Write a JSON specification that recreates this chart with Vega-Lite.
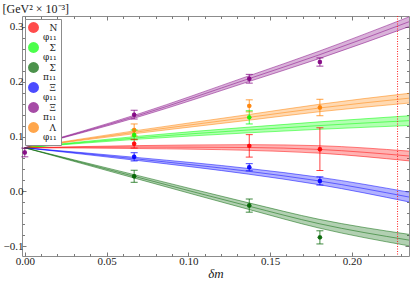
{
  "$schema": "https://vega.github.io/schema/vega-lite/v6.json",
  "width": 387,
  "height": 240,
  "autosize": "none",
  "padding": {"left": 22, "top": 16, "right": 2, "bottom": 29},
  "background": "white",
  "config": {
    "view": {"stroke": "#8c8c8c", "strokeWidth": 1},
    "style": {"guide-label": {"lineHeight": 9}},
    "axis": {"domain": false, "grid": false, "labelFont": "Liberation Serif", "labelFontSize": 11, "labelColor": "#222222", "tickColor": "#7a7a7a", "tickWidth": 1, "titleFont": "Liberation Serif", "titleFontWeight": "normal", "titleColor": "#222222"},
    "legend": {"labelFont": "DejaVu Serif", "labelFontSize": 9, "labelColor": "#222222"}
  },
  "datasets": {
    "bands": [
      {"s": "πΞ", "dm": 0, "c": 0.0795, "lo": 0.0795, "hi": 0.0795},
      {"s": "πΞ", "dm": 0.07, "c": 0.139, "lo": 0.1363, "hi": 0.1417},
      {"s": "πΞ", "dm": 0.137, "c": 0.2055, "lo": 0.2003, "hi": 0.2107},
      {"s": "πΞ", "dm": 0.18, "c": 0.249, "lo": 0.2422, "hi": 0.2558},
      {"s": "πΞ", "dm": 0.235, "c": 0.3095, "lo": 0.3006, "hi": 0.3184},
      {"s": "φΛ", "dm": 0, "c": 0.0795, "lo": 0.0795, "hi": 0.0795},
      {"s": "φΛ", "dm": 0.07, "c": 0.109, "lo": 0.1063, "hi": 0.1117},
      {"s": "φΛ", "dm": 0.137, "c": 0.135, "lo": 0.1298, "hi": 0.1402},
      {"s": "φΛ", "dm": 0.18, "c": 0.152, "lo": 0.1452, "hi": 0.1588},
      {"s": "φΛ", "dm": 0.235, "c": 0.170, "lo": 0.1611, "hi": 0.1789},
      {"s": "φΣ", "dm": 0, "c": 0.0795, "lo": 0.0795, "hi": 0.0795},
      {"s": "φΣ", "dm": 0.07, "c": 0.098, "lo": 0.0953, "hi": 0.1007},
      {"s": "φΣ", "dm": 0.137, "c": 0.112, "lo": 0.1068, "hi": 0.1172},
      {"s": "φΣ", "dm": 0.18, "c": 0.120, "lo": 0.1132, "hi": 0.1268},
      {"s": "φΣ", "dm": 0.235, "c": 0.129, "lo": 0.1201, "hi": 0.1379},
      {"s": "φN", "dm": 0, "c": 0.0795, "lo": 0.0795, "hi": 0.0795},
      {"s": "φN", "dm": 0.07, "c": 0.0808, "lo": 0.0781, "hi": 0.0835},
      {"s": "φN", "dm": 0.137, "c": 0.080, "lo": 0.0748, "hi": 0.0852},
      {"s": "φN", "dm": 0.18, "c": 0.0765, "lo": 0.0697, "hi": 0.0833},
      {"s": "φN", "dm": 0.235, "c": 0.0645, "lo": 0.0556, "hi": 0.0734},
      {"s": "φΞ", "dm": 0, "c": 0.0795, "lo": 0.0795, "hi": 0.0795},
      {"s": "φΞ", "dm": 0.07, "c": 0.0587, "lo": 0.056, "hi": 0.0614},
      {"s": "φΞ", "dm": 0.137, "c": 0.0365, "lo": 0.0313, "hi": 0.0417},
      {"s": "φΞ", "dm": 0.18, "c": 0.019, "lo": 0.0122, "hi": 0.0258},
      {"s": "φΞ", "dm": 0.235, "c": -0.0104, "lo": -0.0193, "hi": -0.0015},
      {"s": "πΣ", "dm": 0, "c": 0.0795, "lo": 0.0795, "hi": 0.0795},
      {"s": "πΣ", "dm": 0.07, "c": 0.025, "lo": 0.0218, "hi": 0.0282},
      {"s": "πΣ", "dm": 0.137, "c": -0.027, "lo": -0.033, "hi": -0.021},
      {"s": "πΣ", "dm": 0.18, "c": -0.059, "lo": -0.067, "hi": -0.051},
      {"s": "πΣ", "dm": 0.235, "c": -0.089, "lo": -0.0995, "hi": -0.0785}
    ],
    "pts": [
      {"s": "φN", "dm": 0.0669, "v": 0.087, "lo": 0.079, "hi": 0.095},
      {"s": "φN", "dm": 0.1373, "v": 0.083, "lo": 0.0625, "hi": 0.1035},
      {"s": "φN", "dm": 0.1805, "v": 0.077, "lo": 0.038, "hi": 0.116},
      {"s": "φΣ", "dm": 0.0669, "v": 0.103, "lo": 0.094, "hi": 0.112},
      {"s": "φΣ", "dm": 0.1373, "v": 0.135, "lo": 0.123, "hi": 0.147},
      {"s": "πΣ", "dm": 0.0669, "v": 0.0275, "lo": 0.0165, "hi": 0.0385},
      {"s": "πΣ", "dm": 0.1373, "v": -0.026, "lo": -0.038, "hi": -0.014},
      {"s": "πΣ", "dm": 0.1805, "v": -0.084, "lo": -0.096, "hi": -0.072},
      {"s": "φΞ", "dm": 0.0669, "v": 0.063, "lo": 0.0555, "hi": 0.0705},
      {"s": "φΞ", "dm": 0.1373, "v": 0.044, "lo": 0.0375, "hi": 0.0505},
      {"s": "φΞ", "dm": 0.1805, "v": 0.019, "lo": 0.0115, "hi": 0.0265},
      {"s": "πΞ", "dm": 0, "v": 0.071, "lo": 0.063, "hi": 0.079},
      {"s": "πΞ", "dm": 0.0669, "v": 0.140, "lo": 0.132, "hi": 0.148},
      {"s": "πΞ", "dm": 0.1373, "v": 0.2055, "lo": 0.1975, "hi": 0.2135},
      {"s": "πΞ", "dm": 0.1805, "v": 0.236, "lo": 0.2285, "hi": 0.2435},
      {"s": "φΛ", "dm": 0.0669, "v": 0.112, "lo": 0.101, "hi": 0.123},
      {"s": "φΛ", "dm": 0.1373, "v": 0.156, "lo": 0.145, "hi": 0.167},
      {"s": "φΛ", "dm": 0.1805, "v": 0.153, "lo": 0.138, "hi": 0.168}
    ],
    "vline": [{"dm": 0.228}]
  },
  "resolve": {"axis": {"x": "independent", "y": "independent"}},
  "layer": [
    {
      "data": {"name": "pts"},
      "mark": {"type": "circle", "size": 20},
      "encoding": {
        "x": {"field": "dm", "type": "quantitative",
          "scale": {"domain": [-0.0017, 0.235], "nice": false, "zero": false},
          "axis": {"orient": "bottom", "values": [0, 0.01, 0.02, 0.03, 0.04, 0.05, 0.06, 0.07, 0.08, 0.09, 0.1, 0.11, 0.12, 0.13, 0.14, 0.15, 0.16, 0.17, 0.18, 0.19, 0.2, 0.21, 0.22, 0.23],
            "labelExpr": "round(datum.value*100) % 5 == 0 ? format(datum.value, '.2f') : ''",
            "tickSize": {"condition": {"test": "round(datum.value*100) % 5 == 0", "value": -4}, "value": -2.5},
            "labelPadding": 3, "labelFlush": false, "labelFont": "Liberation Serif",
            "title": "δm", "titleFont": "Liberation Serif", "titleFontStyle": "italic", "titleFontSize": 13, "titlePadding": 1}},
        "y": {"field": "v", "type": "quantitative",
          "scale": {"domain": [-0.118, 0.32], "nice": false, "zero": false},
          "axis": {"orient": "left", "values": [-0.1, -0.08, -0.06, -0.04, -0.02, 0, 0.02, 0.04, 0.06, 0.08, 0.1, 0.12, 0.14, 0.16, 0.18, 0.2, 0.22, 0.24, 0.26, 0.28, 0.3],
            "labelExpr": "round(datum.value*100) % 10 == 0 ? format(datum.value, '.1f') : ''",
            "tickSize": {"condition": {"test": "round(datum.value*100) % 10 == 0", "value": -4}, "value": -2.5},
            "labelPadding": 3, "labelFlush": false, "labelFont": "Liberation Serif",
            "title": "[GeV² × 10⁻³]", "titleFont": "Liberation Serif", "titleAngle": 0, "titleAlign": "left", "titleBaseline": "middle", "titleX": -20, "titleY": -8, "titleFontSize": 12}},
        "color": {"field": "s", "type": "nominal",
          "scale": {"domain": ["φN", "φΣ", "πΣ", "φΞ", "πΞ", "φΛ"], "range": ["#ff0000", "#00ff00", "#006400", "#0000ff", "#800080", "#ff8000"]},
          "legend": {"title": null, "orient": "top-left", "offset": 3, "symbolType": "circle", "symbolSize": 120, "symbolStrokeWidth": 0, "symbolOpacity": 1,
            "fillColor": "white", "strokeColor": "#8c8c8c", "padding": 3, "rowPadding": 0, "labelOffset": 4, "labelBaseline": "middle",
            "labelExpr": "['\u2800' + substring(datum.label, 1), substring(datum.label, 0, 1) + '₁₁\u00a0\u00a0']"}}
      }
    },
    {
      "data": {"name": "bands"},
      "mark": {"type": "area", "fillOpacity": 0.3, "interpolate": "monotone"},
      "encoding": {
        "x": {"field": "dm", "type": "quantitative", "axis": null},
        "y": {"field": "lo", "type": "quantitative", "axis": null},
        "y2": {"field": "hi"},
        "color": {"field": "s", "type": "nominal"}
      }
    },
    {
      "data": {"name": "bands"},
      "mark": {"type": "line", "strokeWidth": 0.7, "strokeOpacity": 0.7, "interpolate": "monotone"},
      "encoding": {
        "x": {"field": "dm", "type": "quantitative",
          "axis": {"orient": "top", "values": [0, 0.01, 0.02, 0.03, 0.04, 0.05, 0.06, 0.07, 0.08, 0.09, 0.1, 0.11, 0.12, 0.13, 0.14, 0.15, 0.16, 0.17, 0.18, 0.19, 0.2, 0.21, 0.22, 0.23],
            "labels": false, "title": null,
            "tickSize": {"condition": {"test": "round(datum.value*100) % 5 == 0", "value": -4}, "value": -2.5}}},
        "y": {"field": "c", "type": "quantitative",
          "axis": {"orient": "right", "values": [-0.1, -0.08, -0.06, -0.04, -0.02, 0, 0.02, 0.04, 0.06, 0.08, 0.1, 0.12, 0.14, 0.16, 0.18, 0.2, 0.22, 0.24, 0.26, 0.28, 0.3],
            "labels": false, "title": null,
            "tickSize": {"condition": {"test": "round(datum.value*100) % 10 == 0", "value": -4}, "value": -2.5}}},
        "color": {"field": "s", "type": "nominal"}
      }
    },
    {
      "data": {"name": "bands"},
      "mark": {"type": "line", "strokeWidth": 0.7, "strokeOpacity": 0.7, "interpolate": "monotone"},
      "encoding": {
        "x": {"field": "dm", "type": "quantitative", "axis": null},
        "y": {"field": "lo", "type": "quantitative", "axis": null},
        "color": {"field": "s", "type": "nominal"}
      }
    },
    {
      "data": {"name": "bands"},
      "mark": {"type": "line", "strokeWidth": 0.7, "strokeOpacity": 0.7, "interpolate": "monotone"},
      "encoding": {
        "x": {"field": "dm", "type": "quantitative", "axis": null},
        "y": {"field": "hi", "type": "quantitative", "axis": null},
        "color": {"field": "s", "type": "nominal"}
      }
    },
    {
      "data": {"name": "pts"},
      "mark": {"type": "rule", "strokeWidth": 1, "strokeOpacity": 0.75},
      "encoding": {
        "x": {"field": "dm", "type": "quantitative", "axis": null},
        "y": {"field": "lo", "type": "quantitative", "axis": null},
        "y2": {"field": "hi"},
        "color": {"field": "s", "type": "nominal"}
      }
    },
    {
      "data": {"name": "pts"},
      "mark": {"type": "tick", "orient": "horizontal", "size": 7, "thickness": 1, "fillOpacity": 0.75},
      "encoding": {
        "x": {"field": "dm", "type": "quantitative", "axis": null},
        "y": {"field": "lo", "type": "quantitative", "axis": null},
        "color": {"field": "s", "type": "nominal"}
      }
    },
    {
      "data": {"name": "pts"},
      "mark": {"type": "tick", "orient": "horizontal", "size": 7, "thickness": 1, "fillOpacity": 0.75},
      "encoding": {
        "x": {"field": "dm", "type": "quantitative", "axis": null},
        "y": {"field": "hi", "type": "quantitative", "axis": null},
        "color": {"field": "s", "type": "nominal"}
      }
    },
    {
      "data": {"name": "pts"},
      "mark": {"type": "circle", "size": 20},
      "encoding": {
        "x": {"field": "dm", "type": "quantitative", "axis": null},
        "y": {"field": "v", "type": "quantitative", "axis": null},
        "color": {"field": "s", "type": "nominal"}
      }
    },
    {
      "data": {"name": "vline"},
      "mark": {"type": "rule", "strokeWidth": 1, "strokeDash": [1, 1.5]},
      "encoding": {
        "x": {"field": "dm", "type": "quantitative", "axis": null},
        "stroke": {"value": "#ff2020"}
      }
    }
  ]
}
